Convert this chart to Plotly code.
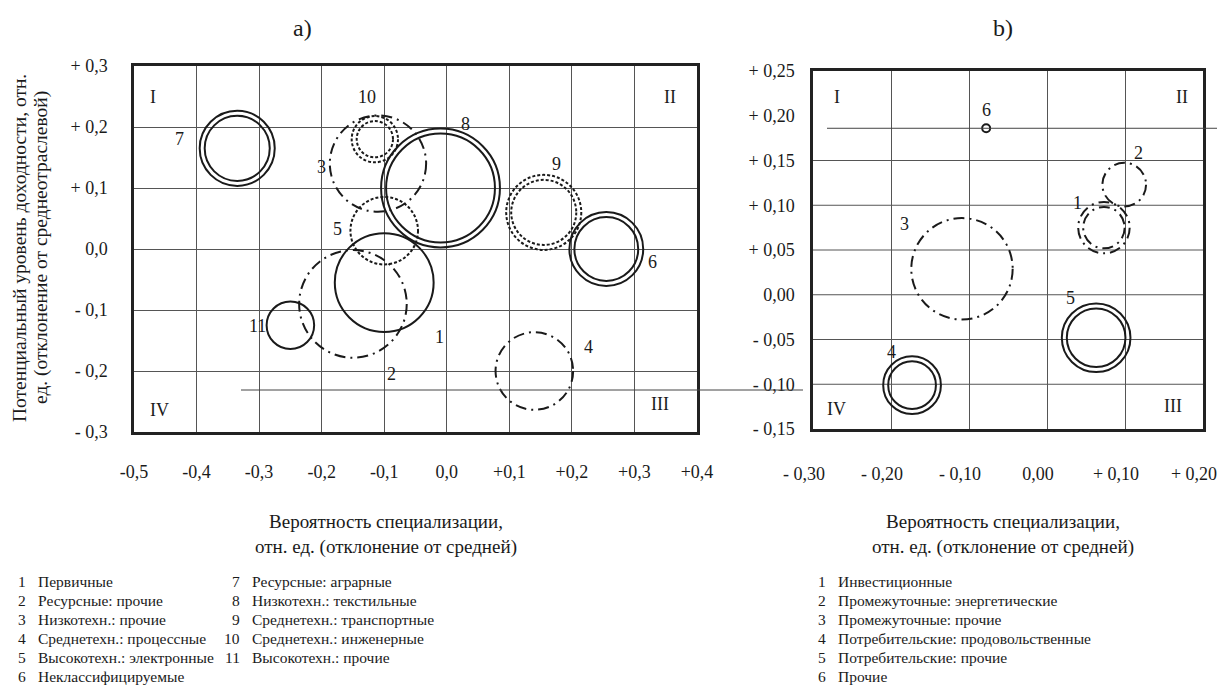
import plotly.graph_objects as go

# the page body adds an 8px margin, so the figure is laid out 8px in from the window edge
OX, OY = 8, 8
FW, FH = 1229 - OX, 688 - OY
FONT = "Liberation Serif, Times New Roman, Times, serif"
INK = "#1a1a1a"

# ----------------------
# Panel a) data
# ----------------------
a_ids = ["1", "2", "3", "4", "5", "6", "7", "8", "9", "10", "11"]
a_x = [-0.10, -0.15, -0.11, 0.14, -0.10, 0.255, -0.335, -0.01, 0.155, -0.115, -0.25]
a_y = [-0.055, -0.09, 0.14, -0.20, 0.03, 0.0, 0.165, 0.10, 0.06, 0.18, -0.125]
a_r = [0.079, 0.086, 0.077, 0.062, 0.054, 0.059, 0.060, 0.095, 0.060, 0.037, 0.038]
a_names = [
    "Первичные",
    "Ресурсные: прочие",
    "Низкотехн.: прочие",
    "Среднетехн.: процессные",
    "Высокотехн.: электронные",
    "Неклассифицируемые",
    "Ресурсные: аграрные",
    "Низкотехн.: текстильные",
    "Среднетехн.: транспортные",
    "Среднетехн.: инженерные",
    "Высокотехн.: прочие",
]
a_xticks = [-0.5, -0.4, -0.3, -0.2, -0.1, 0.0, 0.1, 0.2, 0.3, 0.4]
a_xticktext = ["-0,5", "-0,4", "-0,3", "-0,2", "-0,1", "0,0", "+0,1", "+0,2", "+0,3", "+0,4"]
a_yticks = [0.3, 0.2, 0.1, 0.0, -0.1, -0.2, -0.3]
a_yticktext = ["+ 0,3", "+ 0,2", "+ 0,1", "0,0", "- 0,1", "- 0,2", "- 0,3"]

# ----------------------
# Panel b) data
# ----------------------
b_ids = ["1", "2", "3", "4", "5"]
b_x = [0.073, 0.099, -0.109, -0.173, 0.063]
b_y = [0.075, 0.123, 0.029, -0.101, -0.048]
b_r = [0.033, 0.028, 0.065, 0.037, 0.044]
b_point_x = [-0.078]
b_point_y = [0.186]
b_names = [
    "Инвестиционные",
    "Промежуточные: энергетические",
    "Промежуточные: прочие",
    "Потребительские: продовольственные",
    "Потребительские: прочие",
    "Прочие",
]
b_xticks = [-0.30, -0.20, -0.10, 0.0, 0.10, 0.20]
b_xticktext = ["- 0,30", "- 0,20", "- 0,10", "0,00", "+ 0,10", "+ 0,20"]
b_yticks = [0.25, 0.20, 0.15, 0.10, 0.05, 0.0, -0.05, -0.10, -0.15]
b_yticktext = ["+ 0,25", "+ 0,20", "+ 0,15", "+ 0,10", "+ 0,05", "0,00", "- 0,05", "- 0,10", "- 0,15"]
b_hgrid = [0.15, 0.10, 0.05, 0.0, -0.05, -0.10]

# ----------------------
# Styles (line dash, double ring, label offset in px)
# ----------------------
DASHDOT = "11px,5px,2px,5px"
DOT = "3px,2px"
a_style = {
    "1": ("solid", False, (55, 54)),
    "2": (DASHDOT, False, (39, 70)),
    "3": (DASHDOT, False, (-56, 3)),
    "4": (DASHDOT, False, (54, -24)),
    "5": (DOT, False, (-47, -2)),
    "6": ("solid", True, (46, 13)),
    "7": ("solid", True, (-58, -9)),
    "8": ("solid", True, (25, -64)),
    "9": (DOT, True, (13, -48)),
    "10": (DOT, True, (-8, -42)),
    "11": ("solid", False, (-33, 1)),
}
b_style = {
    "1": (DASHDOT, True, (-26, -25)),
    "2": (DASHDOT, False, (14, -32)),
    "3": (DASHDOT, False, (-57, -45)),
    "4": ("solid", True, (-21, -33)),
    "5": ("solid", True, (-26, -40)),
}


def PX(x):
    return (x - OX) / FW


def PY(y):
    return 1 - (y - OY) / FH


# plot areas in window pixels -> paper fractions
A_DOM_X = [PX(134), PX(697)]
A_DOM_Y = [PY(432), PY(66)]
B_DOM_X = [PX(813), PX(1203)]
B_DOM_Y = [PY(429), PY(71)]
A_RX, A_RY = [-0.5, 0.4], [-0.3, 0.3]
B_RX, B_RY = [-0.30, 0.20], [-0.15, 0.25]


def px_per_unit(dom, rng, size):
    return (dom[1] - dom[0]) * size / (rng[1] - rng[0])


fig = go.Figure()
shapes = []
annotations = []


def note(text, x, y, xref="paper", yref="paper", size=18, **kw):
    d = dict(x=x, y=y, xref=xref, yref=yref, text=text, showarrow=False,
             xanchor="center", yanchor="middle",
             font=dict(family=FONT, size=size, color=INK))
    d.update(kw)
    annotations.append(d)


def add_circles(ids, xs, ys, rs, styles, xref, yref, dom_x, dom_y, rx, ry):
    sx = px_per_unit(dom_x, rx, FW)
    sy = px_per_unit(dom_y, ry, FH)
    k = sx / sy
    for cid, cx, cy, r in zip(ids, xs, ys, rs):
        dash, double, (ox, oy) = styles[cid]
        radii = [r, r - 5 / sx] if double else [r]
        for rr in radii:
            shapes.append(dict(
                type="circle", xref=xref, yref=yref,
                x0=cx - rr, x1=cx + rr, y0=cy - rr * k, y1=cy + rr * k,
                line=dict(color=INK, width=2, dash=dash),
                layer="above",
            ))
        note(cid, cx, cy, xref, yref, xshift=ox, yshift=-oy)


add_circles(a_ids, a_x, a_y, a_r, a_style, "x", "y", A_DOM_X, A_DOM_Y, A_RX, A_RY)
add_circles(b_ids, b_x, b_y, b_r, b_style, "x2", "y2", B_DOM_X, B_DOM_Y, B_RX, B_RY)

# invisible trace to set up panel a) axes, point 6 in panel b)
fig.add_trace(go.Scatter(x=a_x, y=a_y, mode="markers", marker=dict(opacity=0),
                         hoverinfo="skip", xaxis="x", yaxis="y"))
fig.add_trace(go.Scatter(x=b_point_x, y=b_point_y, mode="markers",
                         marker=dict(symbol="circle-open", size=8, color=INK,
                                     line=dict(width=2)),
                         xaxis="x2", yaxis="y2"))
note("6", b_point_x[0], b_point_y[0], "x2", "y2", yshift=18)

# horizontal grid of panel b) (no line at +0,20 in the original)
for gy in b_hgrid:
    shapes.append(dict(type="line", xref="x2 domain", yref="y2", x0=0, x1=1, y0=gy, y1=gy,
                       line=dict(color="#555", width=1), layer="below"))
# reference line through point 6, running past the frame
shapes.append(dict(type="line", xref="paper", yref="y2", x0=PX(827), x1=PX(1217),
                   y0=b_point_y[0], y1=b_point_y[0], line=dict(color="#444", width=1)))
# long stray line linking both panels
shapes.append(dict(type="line", xref="paper", yref="paper", x0=PX(241), x1=PX(803),
                   y0=PY(390), y1=PY(390), line=dict(color="#444", width=1)))

# quadrant numerals
for xr, yr, pos in [
    ("x domain", "y domain", [("I", 0.034, 0.915), ("II", 0.952, 0.915),
                              ("III", 0.934, 0.077), ("IV", 0.046, 0.060)]),
    ("x2 domain", "y2 domain", [("I", 0.062, 0.927), ("II", 0.946, 0.927),
                                ("III", 0.923, 0.064), ("IV", 0.059, 0.056)]),
]:
    for txt, qx, qy in pos:
        note(txt, qx, qy, xr, yr)

# panel captions
note("a)", PX(302), PY(28), size=24)
note("b)", PX(1003), PY(28), size=24)

# axis titles
xtitle = "Вероятность специализации,<br>отн. ед. (отклонение от средней)"
note(xtitle, PX(386), PY(534), size=19)
note(xtitle, PX(1003), PY(534), size=19)
# y title: two rotated lines, set separately to keep the tight line pitch
note("Потенциальный уровень доходности, отн.", PX(19), PY(248), size=19.5, textangle=-90)
note("ед. (отклонение от среднеотраслевой)", PX(41), PY(248), size=19.5, textangle=-90)


# legends (number right-aligned, name left-aligned)
def add_legend(names, cols, rows_per_col):
    for i, name in enumerate(names):
        col, row = divmod(i, rows_per_col)
        num_x, txt_x = cols[col]
        yy = PY(581 + 19 * row)
        note(str(i + 1), PX(num_x), yy, size=15.5, xanchor="right")
        note(name, PX(txt_x), yy, size=15.5, xanchor="left")


add_legend(a_names, [(28, 36), (242, 250)], 6)
add_legend(b_names, [(828, 836)], 6)

tick_font = dict(family=FONT, size=18, color=INK)
frame = dict(showline=True, linewidth=2.5, linecolor="#222", mirror=True, zeroline=False,
             automargin=False, fixedrange=True, tickfont=tick_font, ticks="")

fig.update_layout(
    width=FW, height=FH,
    margin=dict(l=0, r=0, t=0, b=0),
    paper_bgcolor="white", plot_bgcolor="white",
    showlegend=False,
    xaxis=dict(domain=A_DOM_X, range=A_RX, tickvals=a_xticks, ticktext=a_xticktext,
               showgrid=True, gridcolor="#555", gridwidth=1, ticklabelstandoff=22,
               anchor="y", **frame),
    yaxis=dict(domain=A_DOM_Y, range=A_RY, tickvals=a_yticks, ticktext=a_yticktext,
               showgrid=True, gridcolor="#555", gridwidth=1, ticklabelstandoff=20,
               anchor="x", **frame),
    xaxis2=dict(domain=B_DOM_X, range=B_RX, tickvals=b_xticks, ticktext=b_xticktext,
                showgrid=True, gridcolor="#555", gridwidth=1, ticklabelstandoff=27,
                ticklabelshift=-9, anchor="y2", **frame),
    yaxis2=dict(domain=B_DOM_Y, range=B_RY, tickvals=b_yticks, ticktext=b_yticktext,
                showgrid=False, ticklabelstandoff=12, anchor="x2", **frame),
    shapes=shapes,
    annotations=annotations,
)

fig.write_html("out.html")
